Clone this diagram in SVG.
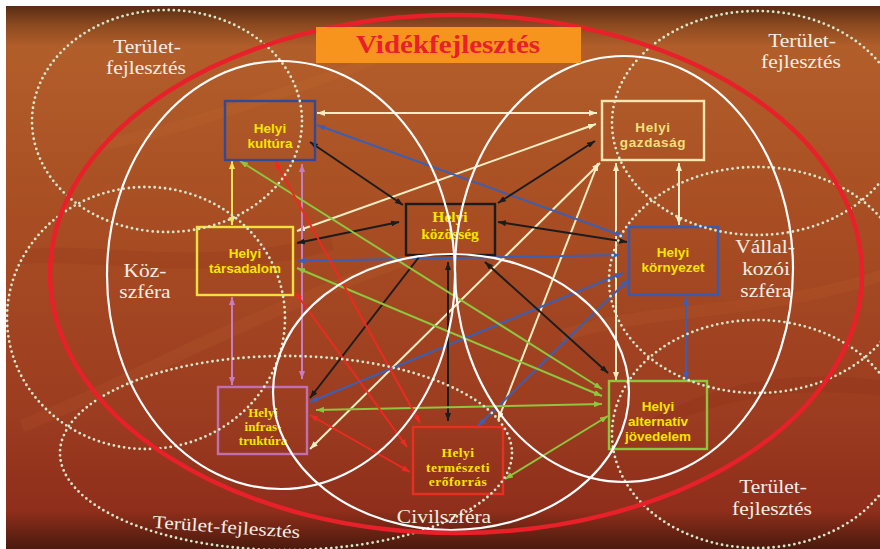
<svg xmlns="http://www.w3.org/2000/svg" width="880" height="549" viewBox="0 0 880 549">
<defs>
<linearGradient id="bg" x1="0" y1="0" x2="0" y2="1">
<stop offset="0" stop-color="#582c13"/>
<stop offset="0.035" stop-color="#8c4a20"/>
<stop offset="0.075" stop-color="#b25e2a"/>
<stop offset="0.4" stop-color="#a84d23"/>
<stop offset="0.75" stop-color="#9c3c20"/>
<stop offset="0.93" stop-color="#8f2e1b"/>
<stop offset="1" stop-color="#4a1a0d"/>
</linearGradient>
<marker id="mc" viewBox="0 0 8 6" refX="8" refY="3" markerWidth="8" markerHeight="6" markerUnits="userSpaceOnUse" orient="auto-start-reverse"><path d="M0,0L8,3L0,6z" fill="#f7efc4"/></marker>
<marker id="my" viewBox="0 0 8 6" refX="8" refY="3" markerWidth="8" markerHeight="6" markerUnits="userSpaceOnUse" orient="auto-start-reverse"><path d="M0,0L8,3L0,6z" fill="#f0e45a"/></marker>
<marker id="mp" viewBox="0 0 8 6" refX="8" refY="3" markerWidth="8" markerHeight="6" markerUnits="userSpaceOnUse" orient="auto-start-reverse"><path d="M0,0L8,3L0,6z" fill="#c77dbf"/></marker>
<marker id="mb" viewBox="0 0 8 6" refX="8" refY="3" markerWidth="8" markerHeight="6" markerUnits="userSpaceOnUse" orient="auto-start-reverse"><path d="M0,0L8,3L0,6z" fill="#3b5fb5"/></marker>
<marker id="mk" viewBox="0 0 8 6" refX="8" refY="3" markerWidth="8" markerHeight="6" markerUnits="userSpaceOnUse" orient="auto-start-reverse"><path d="M0,0L8,3L0,6z" fill="#1c1c1c"/></marker>
<marker id="mg" viewBox="0 0 8 6" refX="8" refY="3" markerWidth="8" markerHeight="6" markerUnits="userSpaceOnUse" orient="auto-start-reverse"><path d="M0,0L8,3L0,6z" fill="#8dc63f"/></marker>
<marker id="mr" viewBox="0 0 8 6" refX="8" refY="3" markerWidth="8" markerHeight="6" markerUnits="userSpaceOnUse" orient="auto-start-reverse"><path d="M0,0L8,3L0,6z" fill="#ec2a22"/></marker>
</defs>
<style>
.ln{fill:none;stroke-width:2}
.c{stroke:#f7efc4;marker-start:url(#mc);marker-end:url(#mc)}
.y{stroke:#f0e45a;marker-start:url(#my);marker-end:url(#my)}
.p{stroke:#c77dbf;marker-start:url(#mp);marker-end:url(#mp)}
.b{stroke:#3b5fb5;marker-start:url(#mb);marker-end:url(#mb)}
.k{stroke:#1c1c1c;marker-start:url(#mk);marker-end:url(#mk)}
.g{stroke:#8dc63f;marker-start:url(#mg);marker-end:url(#mg)}
.r{stroke:#ec2a22;marker-start:url(#mr);marker-end:url(#mr)}
.dot{fill:none;stroke:#d6e8cc;stroke-width:2.8;stroke-linecap:round;stroke-dasharray:0 5.2}
.wh{fill:none;stroke:#ffffff;stroke-width:2.2}
.box{stroke-width:2.4;fill:none}
.ns{font-family:"Liberation Sans",Arial,sans-serif;font-weight:bold;font-size:13.5px;fill:#f3e500;text-anchor:middle}
.nt{font-family:"Liberation Serif","Times New Roman",serif;font-weight:bold;fill:#f3e500;text-anchor:middle}
.lb{font-family:"Liberation Serif","Times New Roman",serif;font-size:21.5px;fill:#f4ede4;text-anchor:middle}
</style>
<rect x="6" y="6" width="874" height="543" fill="url(#bg)"/>
<g opacity="0.09" fill="#e08a40">
<path d="M20,420 C120,380 260,300 420,250 L430,258 C270,310 130,390 24,432 Z"/>
<path d="M560,330 C650,300 760,310 880,270 L880,282 C760,322 650,312 562,342 Z"/>
<path d="M100,140 C200,120 330,70 420,40 L424,48 C330,80 200,132 104,150 Z"/>
</g>
<g opacity="0.1" fill="#6e1a0c">
<path d="M20,250 C100,240 200,270 330,235 L334,250 C200,286 100,258 22,264 Z"/>
<path d="M650,420 C720,380 800,370 880,380 L880,396 C800,386 720,396 652,432 Z"/>
</g>
<g id="connectors" class="ln">
<line class="c" x1="317" y1="113" x2="597" y2="113"/>
<line class="c" x1="297" y1="231" x2="596" y2="124"/>
<line class="c" x1="310" y1="449" x2="600" y2="163"/>
<line class="c" x1="498" y1="420" x2="598" y2="163"/>
<line class="c" x1="616" y1="163" x2="616" y2="380"/>
<line class="c" x1="679" y1="163" x2="679" y2="225"/>
<line class="y" x1="232" y1="161" x2="232" y2="225"/>
<line class="p" x1="232" y1="297" x2="232" y2="385"/>
<line class="p" x1="302" y1="164" x2="302" y2="379"/>
<line class="b" x1="686" y1="297" x2="686" y2="380"/>
<line class="b" x1="317" y1="125" x2="623" y2="236"/>
<line class="b" x1="297" y1="261" x2="620" y2="255"/>
<line class="b" x1="310" y1="402" x2="623" y2="273"/>
<line class="b" x1="478" y1="426" x2="628" y2="280"/>
<line class="k" x1="310" y1="142" x2="403" y2="205"/>
<line class="k" x1="595" y1="141" x2="498" y2="203"/>
<line class="k" x1="297" y1="243" x2="399" y2="222"/>
<line class="k" x1="498" y1="222" x2="627" y2="242"/>
<line class="k" style="marker-start:none" x1="419" y1="257" x2="310" y2="398"/>
<line class="k" x1="448" y1="262" x2="448" y2="421"/>
<line class="k" x1="485" y1="262" x2="608" y2="373"/>
<line class="g" x1="240" y1="161" x2="602" y2="389"/>
<line class="g" x1="297" y1="268" x2="602" y2="396"/>
<line class="g" x1="316" y1="410" x2="602" y2="404"/>
<line class="g" x1="505" y1="479" x2="608" y2="416"/>
<line class="r" x1="275" y1="161" x2="420" y2="423"/>
<line class="r" x1="295" y1="292" x2="407" y2="447"/>
<line class="r" x1="310" y1="415" x2="410" y2="472"/>
</g>
<g id="n-kultura"><rect class="box" x="225" y="101" width="90" height="59" stroke="#2e4a9a"/><text class="ns" x="270" y="133">Helyi</text><text class="ns" x="270" y="148">kultúra</text></g>
<g id="n-gazdasag"><rect class="box" x="602" y="101" width="102" height="59" stroke="#f4e6b0"/><text class="ns" style="fill:#efe07c;letter-spacing:0.6px" x="653" y="132">Helyi</text><text class="ns" style="fill:#efe07c;letter-spacing:0.6px" x="653" y="147">gazdaság</text></g>
<g id="n-kozosseg"><rect class="box" x="406" y="204" width="89" height="51" stroke="#1c1c1c" fill="#8a2c16" fill-opacity="0.35"/><text class="nt" style="font-size:15.5px" x="450" y="222">Helyi</text><text class="nt" style="font-size:15.5px" x="450" y="239">közösség</text></g>
<g id="n-tarsadalom"><rect class="box" x="197" y="227" width="96" height="68" stroke="#f0e040"/><text class="ns" x="245" y="258">Helyi</text><text class="ns" x="245" y="273">társadalom</text></g>
<g id="n-kornyezet"><rect class="box" x="629" y="227" width="89" height="68" stroke="#3a5ab0"/><text class="ns" x="673" y="257">Helyi</text><text class="ns" x="673" y="272">környezet</text></g>
<g id="n-infra"><rect class="box" x="218" y="387" width="89" height="67" stroke="#c070b0"/><text class="nt" style="font-size:13px" x="263" y="417">Helyi</text><text class="nt" style="font-size:13px" x="263" y="431">infras-</text><text class="nt" style="font-size:13px" x="263" y="445">truktúra</text></g>
<g id="n-termeszeti"><rect class="box" x="413" y="427" width="90" height="67" stroke="#e83020"/><text class="nt" style="font-size:13.5px;letter-spacing:0.5px" x="458" y="457">Helyi</text><text class="nt" style="font-size:13.5px;letter-spacing:0.5px" x="458" y="472">természeti</text><text class="nt" style="font-size:13.5px;letter-spacing:0.5px" x="458" y="486">erőforrás</text></g>
<g id="n-alternativ"><rect class="box" x="609" y="381" width="98" height="68" stroke="#8cc63f"/><text class="ns" x="658" y="411">Helyi</text><text class="ns" x="658" y="426">alternatív</text><text class="ns" x="658" y="441">jövedelem</text></g>
<g id="spheres">
<ellipse class="dot" cx="167" cy="121" rx="135" ry="111"/>
<ellipse class="dot" cx="146" cy="318" rx="139" ry="131"/>
<ellipse class="dot" cx="286" cy="453" rx="226" ry="97"/>
<ellipse class="dot" cx="757" cy="123" rx="145" ry="112"/>
<ellipse class="dot" cx="757" cy="280" rx="148" ry="113"/>
<ellipse class="dot" cx="757" cy="434" rx="145" ry="114"/>
<ellipse class="wh" cx="281" cy="275" rx="174" ry="214"/>
<ellipse class="wh" cx="624" cy="269" rx="169" ry="213"/>
<ellipse class="wh" cx="451" cy="392" rx="178" ry="138"/>
<ellipse cx="456" cy="274" rx="406" ry="259" fill="none" stroke="#e8202a" stroke-width="4.5"/>
</g>
<g id="title"><rect x="316" y="27" width="265" height="36" fill="#f7941d"/><text transform="translate(448,53) scale(1,0.84)" font-family="'Liberation Serif','Times New Roman',serif" font-weight="bold" font-size="29" fill="#e8202a" text-anchor="middle">Vidékfejlesztés</text></g>
<g id="labels">
<text class="lb" transform="translate(147,53) scale(1,0.84)">Terület-</text>
<text class="lb" transform="translate(146,74) scale(1,0.84)">fejlesztés</text>
<text class="lb" transform="translate(802,47) scale(1,0.84)">Terület-</text>
<text class="lb" transform="translate(801,68) scale(1,0.84)">fejlesztés</text>
<text class="lb" transform="translate(145,277) scale(1,0.84)">Köz-</text>
<text class="lb" transform="translate(145,298) scale(1,0.84)">szféra</text>
<text class="lb" transform="translate(765,253) scale(1,0.84)">Vállal-</text>
<text class="lb" transform="translate(766,275) scale(1,0.84)">kozói</text>
<text class="lb" transform="translate(766,297) scale(1,0.84)">szféra</text>
<text class="lb" transform="translate(773,493) scale(1,0.84)">Terület-</text>
<text class="lb" transform="translate(772,515) scale(1,0.84)">fejlesztés</text>
<text class="lb" transform="translate(226,533) rotate(4) scale(1,0.84)">Terület-fejlesztés</text>
<text class="lb" transform="translate(444,523) scale(1,0.84)">Civilszféra</text>
</g>
</svg>
